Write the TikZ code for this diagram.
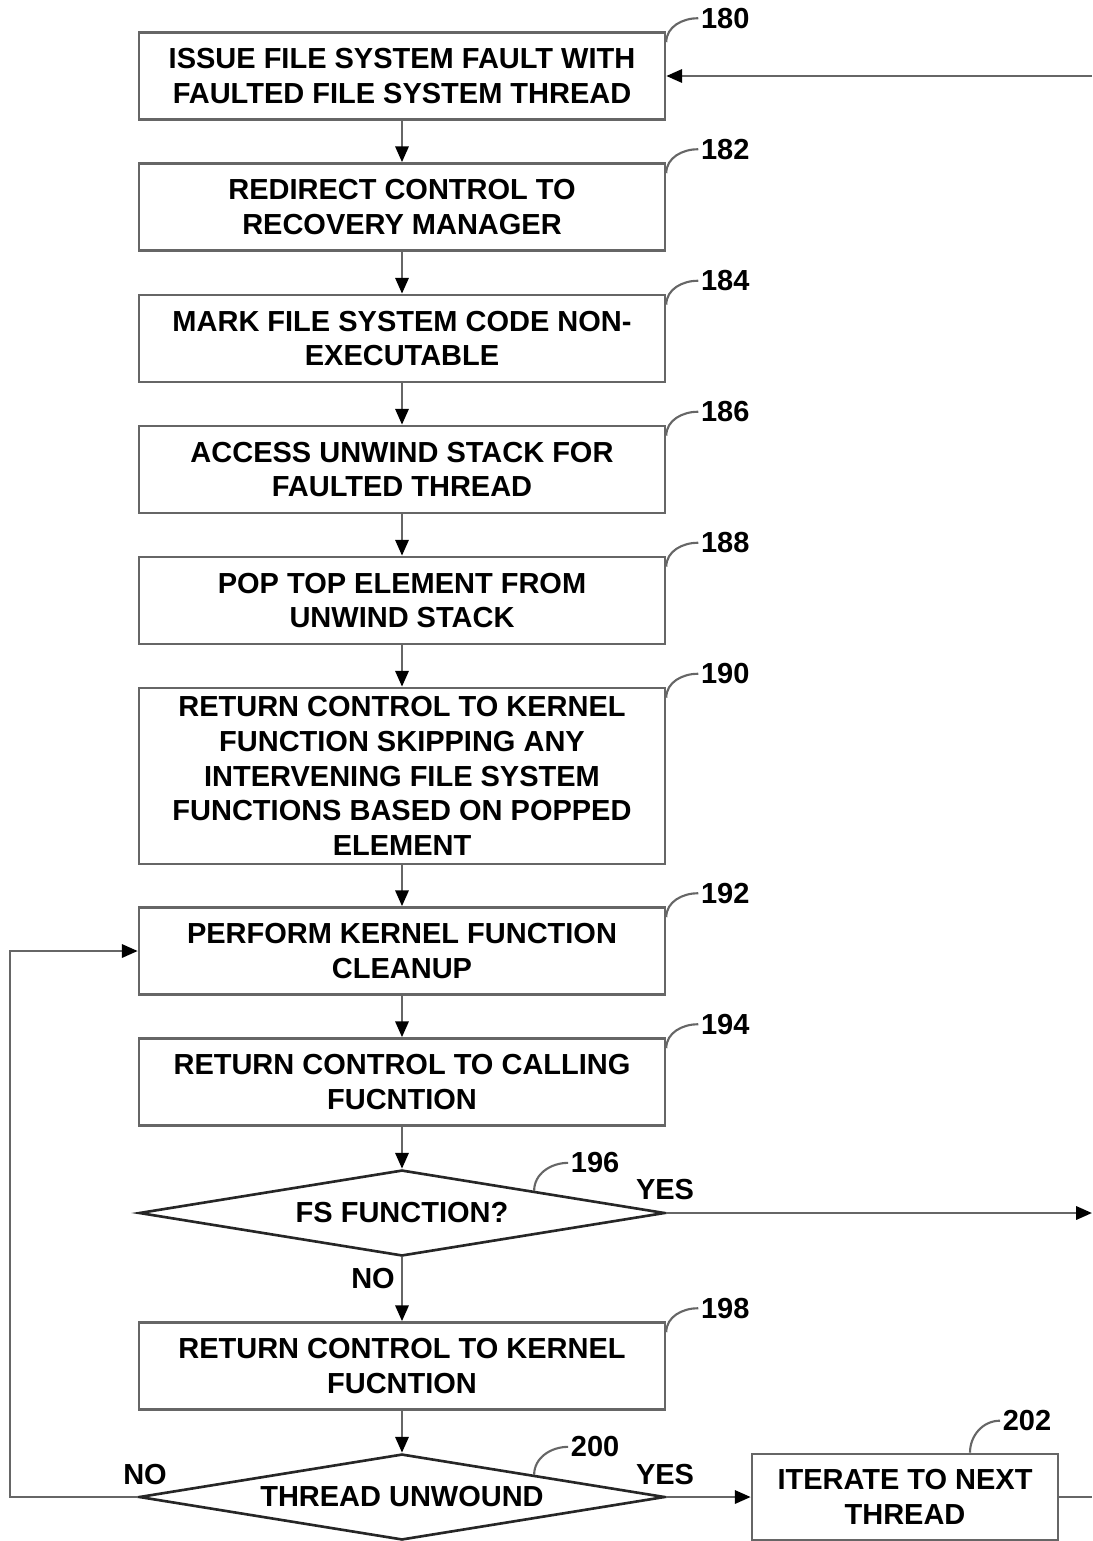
\documentclass[tikz,border=0pt]{standalone}
\usepackage{fontspec}
\setmainfont{Liberation Sans}
\usetikzlibrary{shapes.geometric,arrows.meta}

\newcommand{\reflabel}[3]{%
  \draw[black!60,line width=1.2pt] (#1) to[out=90,in=180] ++(#3) node[anchor=west,black,inner sep=1pt] {#2};}

\begin{document}
\begin{tikzpicture}[x=0.02cm,y=-0.02cm,
    font=\fontsize{16.5}{19.8}\selectfont\bfseries,
    >={Triangle[length=9pt,width=7.5pt,color=black]}]
      \useasboundingbox (0,0) rectangle (1092,1541);
      \begin{scope}[every node/.style={rectangle,draw=black!60,line width=1.5pt,align=center,
          minimum width=10.52cm,minimum height=1.74cm,inner sep=0pt}]
        \node (180) at (402,76) {ISSUE FILE SYSTEM FAULT WITH\\FAULTED FILE SYSTEM THREAD};
        \node (182) at (402,207) {REDIRECT CONTROL TO\\RECOVERY MANAGER};
        \node (184) at (402,338.5) {MARK FILE SYSTEM CODE NON-\\EXECUTABLE};
        \node (186) at (402,469.5) {ACCESS UNWIND STACK FOR\\FAULTED THREAD};
        \node (188) at (402,600.5) {POP TOP ELEMENT FROM\\UNWIND STACK};
        \node[minimum height=3.52cm] (190) at (402,776) {RETURN CONTROL TO KERNEL\\FUNCTION SKIPPING ANY\\INTERVENING FILE SYSTEM\\FUNCTIONS BASED ON POPPED\\ELEMENT};
        \node (192) at (402,951) {PERFORM KERNEL FUNCTION\\CLEANUP};
        \node (194) at (402,1082) {RETURN CONTROL TO CALLING\\FUCNTION};
        \node (198) at (402,1366) {RETURN CONTROL TO KERNEL\\FUCNTION};
        \node[minimum width=6.12cm,minimum height=1.72cm] (202) at (905,1497) {ITERATE TO NEXT\\THREAD};
      \end{scope}
      \begin{scope}[every node/.style={diamond,aspect=6.1,draw=black!85,line width=1.5pt,
          minimum width=10.52cm,minimum height=1.72cm,inner sep=0pt}]
        \node (196) at (402,1213) {FS FUNCTION?};
        \node (200) at (402,1497) {THREAD UNWOUND};
      \end{scope}
      % page edge
      \coordinate (in180) at (1092,76);
      \coordinate (out196) at (1092,1213);
      \coordinate (out202) at (1092,1497);
      \coordinate (left200) at (10,1497);
      \begin{scope}[every edge/.style={draw=black!60,line width=1.5pt,->}]
        \path (180) edge (182);
        \path (182) edge (184);
        \path (184) edge (186);
        \path (186) edge (188);
        \path (188) edge (190);
        \path (190) edge (192);
        \path (192) edge (194);
        \path (194) edge (196);
        \path (196) edge (198);
        \path (198) edge (200);
        \path (196) edge (out196);
        \path (200) edge (202);
        \path (in180) edge (180);
        \path (202) edge[-] (out202);
      \end{scope}
      \draw[black!60,line width=1.5pt,->] (200.west) -- (left200) |- (192.west);
      % labels
      \node (no196) at (373,1279) {NO};
      \node (yes196) at (665,1190) {YES};
      \node (no200) at (145,1475) {NO};
      \node (yes200) at (665,1475) {YES};
      \reflabel{[yshift=-0.22cm]180.north east}{180}{32,-24}
      \reflabel{[yshift=-0.22cm]182.north east}{182}{32,-24}
      \reflabel{[yshift=-0.22cm]184.north east}{184}{32,-24}
      \reflabel{[yshift=-0.22cm]186.north east}{186}{32,-24}
      \reflabel{[yshift=-0.22cm]188.north east}{188}{32,-24}
      \reflabel{[yshift=-0.22cm]190.north east}{190}{32,-24}
      \reflabel{[yshift=-0.22cm]192.north east}{192}{32,-24}
      \reflabel{[yshift=-0.22cm]194.north east}{194}{32,-24}
      \reflabel{[yshift=-0.22cm]198.north east}{198}{32,-24}
      \reflabel{196.north east}{196}{34,-28}
      \reflabel{200.north east}{200}{34,-28}
      \reflabel{[xshift=1.3cm]202.north}{202}{30,-32}
    \end{tikzpicture}
\end{document}
